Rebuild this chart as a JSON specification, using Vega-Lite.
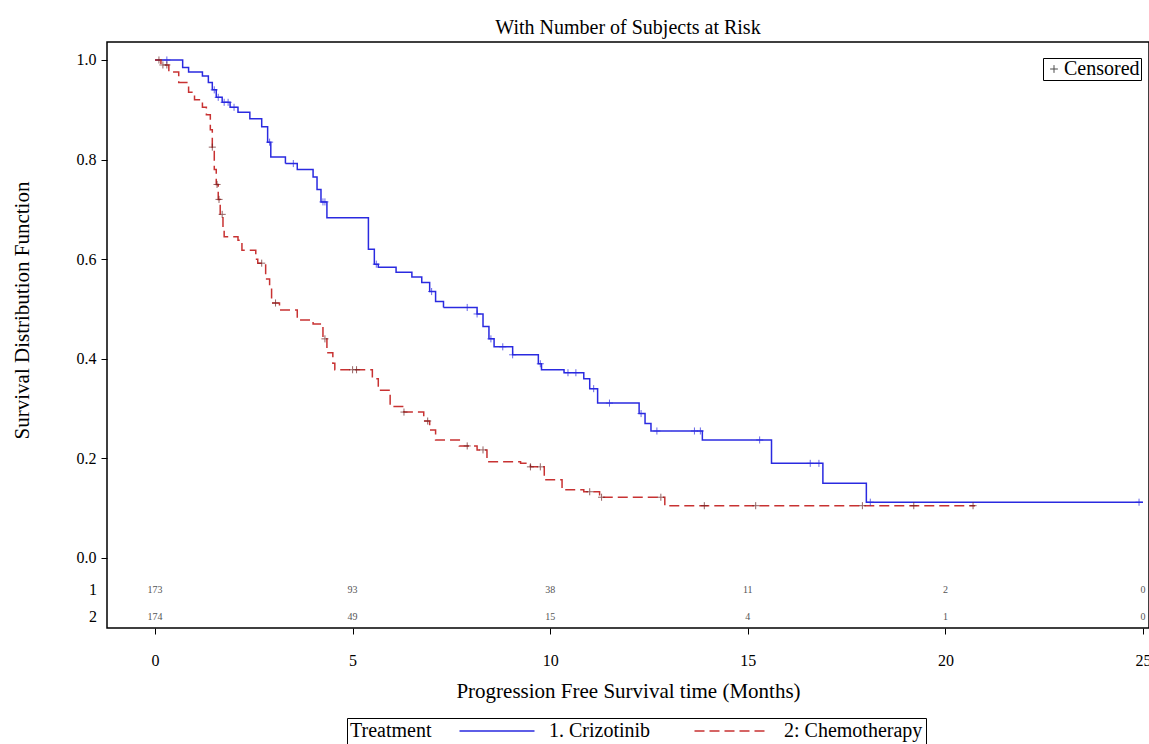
{
  "$schema": "https://vega.github.io/schema/vega-lite/v6.json",
  "width": 1042,
  "height": 586,
  "autosize": {"type": "none"},
  "padding": {"left": 107, "top": 42, "right": 0, "bottom": 116},
  "background": "white",
  "title": {"text": "With Number of Subjects at Risk", "font": "Liberation Serif", "fontSize": 20, "fontWeight": "normal", "color": "black", "anchor": "middle", "offset": 4},
  "config": {
    "view": {"stroke": "black", "strokeWidth": 1.5},
    "axis": {"domain": false, "grid": false, "tickColor": "black", "tickSize": 6, "labelFont": "Liberation Serif", "labelFontSize": 16, "labelColor": "black", "titleFont": "Liberation Serif", "titleFontSize": 21, "titleFontWeight": "normal", "titleColor": "black"},
    "legend": {"labelFont": "Liberation Serif", "labelFontSize": 20, "labelColor": "black", "titleFont": "Liberation Serif", "titleFontSize": 20, "titleFontWeight": "normal", "titleColor": "black"}
  },
  "datasets": {
    "curve": [
      {"time": 0, "surv": 1.0, "grp": "1. Crizotinib"},
      {"time": 0.7, "surv": 0.985, "grp": "1. Crizotinib"},
      {"time": 0.85, "surv": 0.976, "grp": "1. Crizotinib"},
      {"time": 1.2, "surv": 0.968, "grp": "1. Crizotinib"},
      {"time": 1.35, "surv": 0.955, "grp": "1. Crizotinib"},
      {"time": 1.45, "surv": 0.94, "grp": "1. Crizotinib"},
      {"time": 1.55, "surv": 0.925, "grp": "1. Crizotinib"},
      {"time": 1.7, "surv": 0.915, "grp": "1. Crizotinib"},
      {"time": 1.9, "surv": 0.905, "grp": "1. Crizotinib"},
      {"time": 2.1, "surv": 0.895, "grp": "1. Crizotinib"},
      {"time": 2.4, "surv": 0.882, "grp": "1. Crizotinib"},
      {"time": 2.7, "surv": 0.866, "grp": "1. Crizotinib"},
      {"time": 2.85, "surv": 0.835, "grp": "1. Crizotinib"},
      {"time": 2.93, "surv": 0.805, "grp": "1. Crizotinib"},
      {"time": 3.3, "surv": 0.792, "grp": "1. Crizotinib"},
      {"time": 3.6, "surv": 0.78, "grp": "1. Crizotinib"},
      {"time": 4.0, "surv": 0.765, "grp": "1. Crizotinib"},
      {"time": 4.1, "surv": 0.74, "grp": "1. Crizotinib"},
      {"time": 4.2, "surv": 0.715, "grp": "1. Crizotinib"},
      {"time": 4.35, "surv": 0.683, "grp": "1. Crizotinib"},
      {"time": 5.4, "surv": 0.62, "grp": "1. Crizotinib"},
      {"time": 5.55, "surv": 0.59, "grp": "1. Crizotinib"},
      {"time": 5.65, "surv": 0.584, "grp": "1. Crizotinib"},
      {"time": 6.1, "surv": 0.574, "grp": "1. Crizotinib"},
      {"time": 6.5, "surv": 0.564, "grp": "1. Crizotinib"},
      {"time": 6.75, "surv": 0.553, "grp": "1. Crizotinib"},
      {"time": 6.95, "surv": 0.535, "grp": "1. Crizotinib"},
      {"time": 7.1, "surv": 0.515, "grp": "1. Crizotinib"},
      {"time": 7.3, "surv": 0.503, "grp": "1. Crizotinib"},
      {"time": 8.15, "surv": 0.49, "grp": "1. Crizotinib"},
      {"time": 8.3, "surv": 0.465, "grp": "1. Crizotinib"},
      {"time": 8.45, "surv": 0.44, "grp": "1. Crizotinib"},
      {"time": 8.58, "surv": 0.424, "grp": "1. Crizotinib"},
      {"time": 9.05, "surv": 0.408, "grp": "1. Crizotinib"},
      {"time": 9.7, "surv": 0.39, "grp": "1. Crizotinib"},
      {"time": 9.78, "surv": 0.378, "grp": "1. Crizotinib"},
      {"time": 10.35, "surv": 0.372, "grp": "1. Crizotinib"},
      {"time": 10.85, "surv": 0.36, "grp": "1. Crizotinib"},
      {"time": 11.0, "surv": 0.34, "grp": "1. Crizotinib"},
      {"time": 11.2, "surv": 0.311, "grp": "1. Crizotinib"},
      {"time": 12.25, "surv": 0.29, "grp": "1. Crizotinib"},
      {"time": 12.4, "surv": 0.27, "grp": "1. Crizotinib"},
      {"time": 12.55, "surv": 0.255, "grp": "1. Crizotinib"},
      {"time": 13.85, "surv": 0.237, "grp": "1. Crizotinib"},
      {"time": 15.6, "surv": 0.19, "grp": "1. Crizotinib"},
      {"time": 16.9, "surv": 0.15, "grp": "1. Crizotinib"},
      {"time": 18.0, "surv": 0.112, "grp": "1. Crizotinib"},
      {"time": 25.0, "surv": 0.112, "grp": "1. Crizotinib"},
      {"time": 0, "surv": 1.0, "grp": "2: Chemotherapy"},
      {"time": 0.15, "surv": 0.99, "grp": "2: Chemotherapy"},
      {"time": 0.35, "surv": 0.976, "grp": "2: Chemotherapy"},
      {"time": 0.6, "surv": 0.955, "grp": "2: Chemotherapy"},
      {"time": 0.85, "surv": 0.935, "grp": "2: Chemotherapy"},
      {"time": 1.0, "surv": 0.92, "grp": "2: Chemotherapy"},
      {"time": 1.2, "surv": 0.905, "grp": "2: Chemotherapy"},
      {"time": 1.3, "surv": 0.89, "grp": "2: Chemotherapy"},
      {"time": 1.4, "surv": 0.86, "grp": "2: Chemotherapy"},
      {"time": 1.45, "surv": 0.825, "grp": "2: Chemotherapy"},
      {"time": 1.5, "surv": 0.78, "grp": "2: Chemotherapy"},
      {"time": 1.55, "surv": 0.75, "grp": "2: Chemotherapy"},
      {"time": 1.6, "surv": 0.72, "grp": "2: Chemotherapy"},
      {"time": 1.65, "surv": 0.69, "grp": "2: Chemotherapy"},
      {"time": 1.72, "surv": 0.66, "grp": "2: Chemotherapy"},
      {"time": 1.75, "surv": 0.645, "grp": "2: Chemotherapy"},
      {"time": 2.1, "surv": 0.638, "grp": "2: Chemotherapy"},
      {"time": 2.2, "surv": 0.618, "grp": "2: Chemotherapy"},
      {"time": 2.55, "surv": 0.6, "grp": "2: Chemotherapy"},
      {"time": 2.6, "surv": 0.592, "grp": "2: Chemotherapy"},
      {"time": 2.8, "surv": 0.56, "grp": "2: Chemotherapy"},
      {"time": 2.9, "surv": 0.545, "grp": "2: Chemotherapy"},
      {"time": 2.95, "surv": 0.512, "grp": "2: Chemotherapy"},
      {"time": 3.15, "surv": 0.498, "grp": "2: Chemotherapy"},
      {"time": 3.6, "surv": 0.478, "grp": "2: Chemotherapy"},
      {"time": 4.0, "surv": 0.47, "grp": "2: Chemotherapy"},
      {"time": 4.25, "surv": 0.44, "grp": "2: Chemotherapy"},
      {"time": 4.35, "surv": 0.412, "grp": "2: Chemotherapy"},
      {"time": 4.5, "surv": 0.391, "grp": "2: Chemotherapy"},
      {"time": 4.55, "surv": 0.378, "grp": "2: Chemotherapy"},
      {"time": 5.5, "surv": 0.36, "grp": "2: Chemotherapy"},
      {"time": 5.65, "surv": 0.337, "grp": "2: Chemotherapy"},
      {"time": 5.95, "surv": 0.304, "grp": "2: Chemotherapy"},
      {"time": 6.3, "surv": 0.293, "grp": "2: Chemotherapy"},
      {"time": 6.8, "surv": 0.275, "grp": "2: Chemotherapy"},
      {"time": 6.95, "surv": 0.257, "grp": "2: Chemotherapy"},
      {"time": 7.1, "surv": 0.237, "grp": "2: Chemotherapy"},
      {"time": 7.7, "surv": 0.225, "grp": "2: Chemotherapy"},
      {"time": 8.15, "surv": 0.217, "grp": "2: Chemotherapy"},
      {"time": 8.4, "surv": 0.193, "grp": "2: Chemotherapy"},
      {"time": 9.25, "surv": 0.19, "grp": "2: Chemotherapy"},
      {"time": 9.5, "surv": 0.183, "grp": "2: Chemotherapy"},
      {"time": 9.85, "surv": 0.157, "grp": "2: Chemotherapy"},
      {"time": 10.3, "surv": 0.137, "grp": "2: Chemotherapy"},
      {"time": 10.85, "surv": 0.133, "grp": "2: Chemotherapy"},
      {"time": 11.25, "surv": 0.122, "grp": "2: Chemotherapy"},
      {"time": 12.9, "surv": 0.105, "grp": "2: Chemotherapy"},
      {"time": 20.75, "surv": 0.105, "grp": "2: Chemotherapy"}
    ],
    "censor": [
      {"time": 0.3, "surv": 1.0, "grp": "1. Crizotinib", "cens": "Censored"},
      {"time": 1.5, "surv": 0.94, "grp": "1. Crizotinib", "cens": "Censored"},
      {"time": 1.6, "surv": 0.925, "grp": "1. Crizotinib", "cens": "Censored"},
      {"time": 1.75, "surv": 0.915, "grp": "1. Crizotinib", "cens": "Censored"},
      {"time": 1.85, "surv": 0.915, "grp": "1. Crizotinib", "cens": "Censored"},
      {"time": 2.0, "surv": 0.905, "grp": "1. Crizotinib", "cens": "Censored"},
      {"time": 2.9, "surv": 0.835, "grp": "1. Crizotinib", "cens": "Censored"},
      {"time": 3.5, "surv": 0.792, "grp": "1. Crizotinib", "cens": "Censored"},
      {"time": 4.25, "surv": 0.715, "grp": "1. Crizotinib", "cens": "Censored"},
      {"time": 4.3, "surv": 0.715, "grp": "1. Crizotinib", "cens": "Censored"},
      {"time": 5.6, "surv": 0.59, "grp": "1. Crizotinib", "cens": "Censored"},
      {"time": 7.0, "surv": 0.535, "grp": "1. Crizotinib", "cens": "Censored"},
      {"time": 7.9, "surv": 0.503, "grp": "1. Crizotinib", "cens": "Censored"},
      {"time": 8.15, "surv": 0.49, "grp": "1. Crizotinib", "cens": "Censored"},
      {"time": 8.5, "surv": 0.44, "grp": "1. Crizotinib", "cens": "Censored"},
      {"time": 8.8, "surv": 0.424, "grp": "1. Crizotinib", "cens": "Censored"},
      {"time": 9.05, "surv": 0.408, "grp": "1. Crizotinib", "cens": "Censored"},
      {"time": 9.75, "surv": 0.39, "grp": "1. Crizotinib", "cens": "Censored"},
      {"time": 10.45, "surv": 0.372, "grp": "1. Crizotinib", "cens": "Censored"},
      {"time": 10.65, "surv": 0.372, "grp": "1. Crizotinib", "cens": "Censored"},
      {"time": 11.1, "surv": 0.34, "grp": "1. Crizotinib", "cens": "Censored"},
      {"time": 11.5, "surv": 0.311, "grp": "1. Crizotinib", "cens": "Censored"},
      {"time": 12.3, "surv": 0.29, "grp": "1. Crizotinib", "cens": "Censored"},
      {"time": 12.7, "surv": 0.255, "grp": "1. Crizotinib", "cens": "Censored"},
      {"time": 13.65, "surv": 0.255, "grp": "1. Crizotinib", "cens": "Censored"},
      {"time": 13.8, "surv": 0.255, "grp": "1. Crizotinib", "cens": "Censored"},
      {"time": 15.3, "surv": 0.237, "grp": "1. Crizotinib", "cens": "Censored"},
      {"time": 16.58, "surv": 0.19, "grp": "1. Crizotinib", "cens": "Censored"},
      {"time": 16.8, "surv": 0.19, "grp": "1. Crizotinib", "cens": "Censored"},
      {"time": 18.1, "surv": 0.112, "grp": "1. Crizotinib", "cens": "Censored"},
      {"time": 24.9, "surv": 0.112, "grp": "1. Crizotinib", "cens": "Censored"},
      {"time": 0.1, "surv": 1.0, "grp": "2: Chemotherapy", "cens": "Censored"},
      {"time": 0.2, "surv": 0.99, "grp": "2: Chemotherapy", "cens": "Censored"},
      {"time": 0.3, "surv": 0.99, "grp": "2: Chemotherapy", "cens": "Censored"},
      {"time": 1.45, "surv": 0.825, "grp": "2: Chemotherapy", "cens": "Censored"},
      {"time": 1.57, "surv": 0.75, "grp": "2: Chemotherapy", "cens": "Censored"},
      {"time": 1.62, "surv": 0.72, "grp": "2: Chemotherapy", "cens": "Censored"},
      {"time": 1.7, "surv": 0.69, "grp": "2: Chemotherapy", "cens": "Censored"},
      {"time": 2.7, "surv": 0.592, "grp": "2: Chemotherapy", "cens": "Censored"},
      {"time": 3.05, "surv": 0.512, "grp": "2: Chemotherapy", "cens": "Censored"},
      {"time": 4.3, "surv": 0.44, "grp": "2: Chemotherapy", "cens": "Censored"},
      {"time": 5.0, "surv": 0.378, "grp": "2: Chemotherapy", "cens": "Censored"},
      {"time": 5.1, "surv": 0.378, "grp": "2: Chemotherapy", "cens": "Censored"},
      {"time": 6.3, "surv": 0.293, "grp": "2: Chemotherapy", "cens": "Censored"},
      {"time": 6.9, "surv": 0.275, "grp": "2: Chemotherapy", "cens": "Censored"},
      {"time": 7.9, "surv": 0.225, "grp": "2: Chemotherapy", "cens": "Censored"},
      {"time": 8.3, "surv": 0.217, "grp": "2: Chemotherapy", "cens": "Censored"},
      {"time": 9.5, "surv": 0.183, "grp": "2: Chemotherapy", "cens": "Censored"},
      {"time": 9.75, "surv": 0.183, "grp": "2: Chemotherapy", "cens": "Censored"},
      {"time": 11.0, "surv": 0.133, "grp": "2: Chemotherapy", "cens": "Censored"},
      {"time": 11.3, "surv": 0.122, "grp": "2: Chemotherapy", "cens": "Censored"},
      {"time": 12.8, "surv": 0.122, "grp": "2: Chemotherapy", "cens": "Censored"},
      {"time": 13.9, "surv": 0.105, "grp": "2: Chemotherapy", "cens": "Censored"},
      {"time": 15.2, "surv": 0.105, "grp": "2: Chemotherapy", "cens": "Censored"},
      {"time": 17.9, "surv": 0.105, "grp": "2: Chemotherapy", "cens": "Censored"},
      {"time": 19.2, "surv": 0.105, "grp": "2: Chemotherapy", "cens": "Censored"},
      {"time": 20.7, "surv": 0.105, "grp": "2: Chemotherapy", "cens": "Censored"}
    ],
    "atrisk": [
      {"time": 0, "group": "1", "n": 173},
      {"time": 5, "group": "1", "n": 93},
      {"time": 10, "group": "1", "n": 38},
      {"time": 15, "group": "1", "n": 11},
      {"time": 20, "group": "1", "n": 2},
      {"time": 25, "group": "1", "n": 0},
      {"time": 0, "group": "2", "n": 174},
      {"time": 5, "group": "2", "n": 49},
      {"time": 10, "group": "2", "n": 15},
      {"time": 15, "group": "2", "n": 4},
      {"time": 20, "group": "2", "n": 1},
      {"time": 25, "group": "2", "n": 0}
    ],
    "rowlabels": [
      {"group": "1"},
      {"group": "2"}
    ]
  },
  "resolve": {"scale": {"y": "independent"}},
  "layer": [
    {
      "layer": [
        {
          "data": {"name": "curve"},
          "mark": {"type": "line", "interpolate": "step-after", "strokeWidth": 1.5},
          "encoding": {
            "x": {"field": "time", "type": "quantitative", "scale": {"domain": [-1.2146, 25.152], "nice": false, "zero": false}, "axis": {"values": [0, 5, 10, 15, 20, 25], "title": "Progression Free Survival time (Months)", "labelPadding": 18, "titlePadding": 12, "labelFlush": false}},
            "y": {"field": "surv", "type": "quantitative", "scale": {"domain": [-0.1406, 1.0361], "nice": false, "zero": false}, "axis": {"values": [0, 0.2, 0.4, 0.6, 0.8, 1.0], "format": ".1f", "title": "Survival Distribution Function", "labelPadding": 5, "titlePadding": 44, "titleY": 268}},
            "color": {"field": "grp", "type": "nominal", "scale": {"domain": ["1. Crizotinib", "2: Chemotherapy"], "range": ["#2a2ae0", "#c83232"]},
              "legend": {"title": "Treatment", "orient": "none", "legendX": 240, "legendY": 676, "direction": "horizontal", "titleOrient": "left", "titleBaseline": "middle", "strokeColor": "black", "padding": 3, "symbolType": "M-7.5,0H7.5", "symbolSize": 100, "symbolStrokeWidth": 1.5, "labelOffset": 42, "columnPadding": 40, "titlePadding": 55}},
            "strokeDash": {"field": "grp", "type": "nominal", "scale": {"domain": ["1. Crizotinib", "2: Chemotherapy"], "range": [[1, 0], [10, 5]]}}
          }
        },
        {
          "data": {"name": "censor"},
          "mark": {"type": "point", "filled": false, "strokeWidth": 1, "size": 50},
          "encoding": {
            "x": {"field": "time", "type": "quantitative"},
            "y": {"field": "surv", "type": "quantitative"},
            "stroke": {"field": "grp", "type": "nominal", "scale": {"domain": ["1. Crizotinib", "2: Chemotherapy"], "range": ["#2a2ae0", "#6a2020"]}, "legend": null},
            "shape": {"field": "cens", "type": "nominal", "scale": {"domain": ["Censored"], "range": ["M-1,0H1M0,-1V1"]},
              "legend": {"title": null, "orient": "none", "legendX": 936, "legendY": 16, "strokeColor": "black", "padding": 1, "symbolStrokeColor": "black", "symbolSize": 60, "symbolStrokeWidth": 1, "labelOffset": 0}}
          }
        }
      ]
    },
    {
      "encoding": {
        "y": {"field": "group", "type": "ordinal", "scale": {"type": "point", "domain": ["1", "2"], "range": [548, 575], "padding": 0}, "axis": null}
      },
      "layer": [
        {
          "data": {"name": "atrisk"},
          "mark": {"type": "text", "font": "Liberation Serif", "fontSize": 10, "color": "#555555", "baseline": "middle"},
          "encoding": {
            "x": {"field": "time", "type": "quantitative"},
            "text": {"field": "n", "type": "quantitative"}
          }
        },
        {
          "data": {"name": "rowlabels"},
          "mark": {"type": "text", "font": "Liberation Serif", "fontSize": 16, "color": "black", "baseline": "middle"},
          "encoding": {
            "x": {"datum": -1.57},
            "text": {"field": "group", "type": "nominal"}
          }
        }
      ]
    }
  ]
}
